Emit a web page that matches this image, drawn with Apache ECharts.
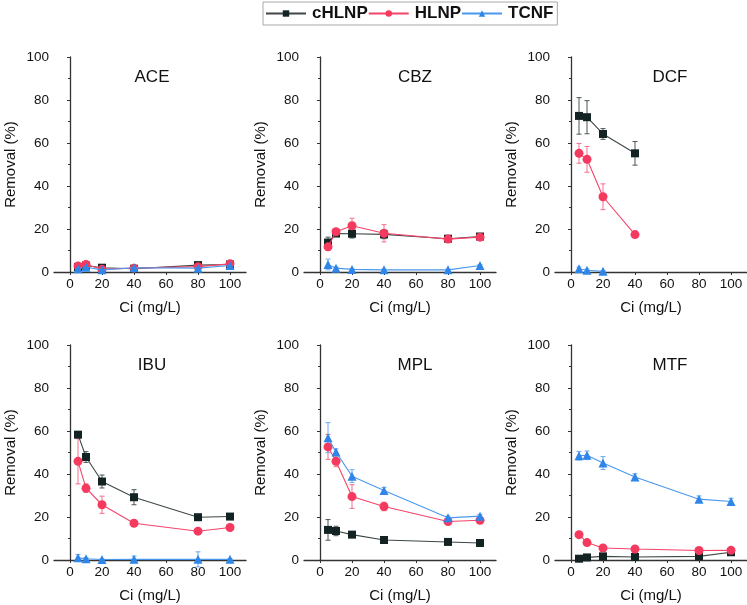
<!DOCTYPE html>
<html>
<head>
<meta charset="utf-8">
<script src="https://cdn.jsdelivr.net/npm/echarts@6/dist/echarts.min.js"></script>
<style>html,body{margin:0;padding:0;background:#fff}#c{width:747px;height:605px}</style>
</head>
<body>
<div id="c"></div>
<script>
// ---- data ----
const seriesNames = ['cHLNP', 'HLNP', 'TCNF'];
const panelNames = ['ACE', 'CBZ', 'DCF', 'IBU', 'MPL', 'MTF'];
const ciX = [5, 10, 20, 40, 80, 100];
const xTicks = [0, 20, 40, 60, 80, 100];

const ace_cHLNP = [2.3, 3.0, 2.0, 1.5, 3.2, 3.5];
const ace_cHLNP_err = [0.5, 0.8, 0.5, 0.5, 0.5, 0.5];
const ace_HLNP = [2.8, 3.5, 1.3, 1.8, 2.5, 3.8];
const ace_HLNP_err = [0.8, 0.8, 0.5, 0.5, 0.5, 0.5];
const ace_TCNF = [1.5, 2.2, 1.0, 2.0, 1.8, 3.0];
const ace_TCNF_err = [0.5, 0.5, 0.3, 0.8, 0.5, 0.5];

const cbz_cHLNP = [13.7, 17.9, 17.8, 17.5, 15.5, 16.5];
const cbz_cHLNP_err = [2.5, 1.0, 2.0, 2.0, 0.8, 0.8];
const cbz_HLNP = [11.7, 18.7, 21.5, 18.0, 15.3, 16.2];
const cbz_HLNP_err = [1.5, 1.0, 3.5, 4.0, 0.8, 0.8];
const cbz_TCNF = [3.5, 1.8, 1.2, 1.0, 1.0, 3.0];
const cbz_TCNF_err = [2.5, 0.5, 0.3, 0.3, 0.3, 0.5];

const dcf_x = [5, 10, 20, 40];
const dcf_cHLNP = [72.6, 72.0, 64.2, 55.2];
const dcf_cHLNP_err = [8.5, 7.7, 2.5, 5.5];
const dcf_HLNP = [55.2, 52.4, 35.0, 17.4];
const dcf_HLNP_err = [4.6, 6.0, 6.0, 0.5];
const dcf_TCNF_x = [5, 10, 20];
const dcf_TCNF = [1.5, 0.8, 0.3];
const dcf_TCNF_err = [0.8, 0.5, 0.3];

const ibu_cHLNP = [58.3, 47.9, 36.5, 29.2, 19.9, 20.2];
const ibu_cHLNP_err = [1.0, 2.5, 3.0, 3.5, 0.5, 0.5];
const ibu_HLNP = [45.9, 33.4, 25.7, 17.1, 13.4, 15.1];
const ibu_HLNP_err = [10.5, 2.0, 4.0, 1.0, 0.5, 0.5];
const ibu_TCNF = [1.0, 0.6, 0.2, 0.3, 0.3, 0.3];
const ibu_TCNF_err = [1.5, 0.5, 0.3, 1.5, 3.5, 0.3];

const mpl_cHLNP = [14.0, 13.5, 11.8, 9.3, 8.4, 7.9];
const mpl_cHLNP_err = [4.8, 2.2, 0.8, 0.8, 0.5, 0.5];
const mpl_HLNP = [52.6, 45.9, 29.5, 24.9, 17.9, 18.5];
const mpl_HLNP_err = [5.8, 2.5, 5.5, 2.0, 0.8, 0.8];
const mpl_TCNF = [56.9, 50.2, 39.0, 32.3, 19.6, 20.4];
const mpl_TCNF_err = [7.0, 1.5, 3.0, 1.5, 0.8, 0.8];

const mtf_cHLNP = [0.6, 1.2, 1.7, 1.4, 1.7, 3.6];
const mtf_cHLNP_err = [0.3, 0.3, 0.3, 0.3, 0.3, 0.3];
const mtf_HLNP = [11.8, 8.1, 5.6, 5.1, 4.4, 4.5];
const mtf_HLNP_err = [0.5, 0.5, 0.5, 0.5, 0.5, 0.5];
const mtf_TCNF = [48.5, 48.7, 45.1, 38.6, 28.3, 27.2];
const mtf_TCNF_err = [2.0, 2.0, 3.0, 1.5, 1.5, 1.5];

// ---- build ----
const panels = [
  [[ciX, ace_cHLNP, ace_cHLNP_err], [ciX, ace_HLNP, ace_HLNP_err], [ciX, ace_TCNF, ace_TCNF_err]],
  [[ciX, cbz_cHLNP, cbz_cHLNP_err], [ciX, cbz_HLNP, cbz_HLNP_err], [ciX, cbz_TCNF, cbz_TCNF_err]],
  [[dcf_x, dcf_cHLNP, dcf_cHLNP_err], [dcf_x, dcf_HLNP, dcf_HLNP_err], [dcf_TCNF_x, dcf_TCNF, dcf_TCNF_err]],
  [[ciX, ibu_cHLNP, ibu_cHLNP_err], [ciX, ibu_HLNP, ibu_HLNP_err], [ciX, ibu_TCNF, ibu_TCNF_err]],
  [[ciX, mpl_cHLNP, mpl_cHLNP_err], [ciX, mpl_HLNP, mpl_HLNP_err], [ciX, mpl_TCNF, mpl_TCNF_err]],
  [[ciX, mtf_cHLNP, mtf_cHLNP_err], [ciX, mtf_HLNP, mtf_HLNP_err], [ciX, mtf_TCNF, mtf_TCNF_err]]
];

const lineColors = ['#3e4747', '#f4446a', '#4a98ec'];
const markColors = ['#132222', '#f43a5f', '#2f86e8'];
const errColors = ['#4d5555', '#f46f8b', '#6aaaf0'];
const symbols = ['rect', 'circle', 'triangle'];
const symSizes = [8, 9, 9];

const colLeft = [54, 304, 555];
const rowTop = [57, 345];
const gW = 192, gH = 215;
const titleX = [152, 415, 670];

const FONT = 'Arial, "Liberation Sans", sans-serif';
const grids = [], xAxes = [], yAxes = [], titles = [], series = [];

panels.forEach((p, i) => {
  const c = i % 3, r = Math.floor(i / 3);
  grids.push({left: colLeft[c], top: rowTop[r], width: gW, height: gH});
  xAxes.push({
    gridIndex: i, type: 'value', min: -10, max: 110,
    name: 'Ci (mg/L)', nameLocation: 'middle', nameGap: 28,
    nameTextStyle: {fontSize: 15, color: '#111', fontFamily: FONT},
    axisLine: {show: true, onZero: false, lineStyle: {color: '#333', width: 1.3}},
    axisTick: {show: true, inside: false, length: 3, customValues: xTicks, lineStyle: {color: '#333'}},
    axisLabel: {customValues: xTicks, fontSize: 13.5, color: '#111', margin: 5, fontFamily: FONT},
    splitLine: {show: false}
  });
  yAxes.push({
    gridIndex: i, type: 'value', min: 0, max: 100, interval: 20,
    name: 'Removal (%)', nameLocation: 'middle', nameGap: 36,
    nameTextStyle: {fontSize: 15, color: '#111', fontFamily: FONT},
    axisLine: {show: true, lineStyle: {color: '#333', width: 1.3}},
    axisTick: {show: true, length: 3, lineStyle: {color: '#333'}},
    minorTick: {show: true, splitNumber: 2, length: 2, lineStyle: {color: '#333'}},
    axisLabel: {fontSize: 13.5, color: '#111', margin: 5, fontFamily: FONT},
    splitLine: {show: false}
  });
  titles.push({
    text: panelNames[i], left: titleX[c], top: rowTop[r] + 12, textAlign: 'center', padding: 0,
    textStyle: {fontSize: 17, fontWeight: 'normal', color: '#111', fontFamily: FONT}
  });
  p.forEach((s, k) => {
    const [xs, ys, es] = s;
    series.push({
      type: 'custom', xAxisIndex: i, yAxisIndex: i, silent: true, z: 1,
      data: xs.map((x, j) => [x, ys[j] - es[j], ys[j] + es[j]]),
      renderItem: (params, api) => {
        const x = api.value(0);
        const a = api.coord([x, api.value(1)]);
        const b = api.coord([x, api.value(2)]);
        const st = {stroke: errColors[k], lineWidth: 1};
        return {type: 'group', children: [
          {type: 'line', shape: {x1: a[0], y1: a[1], x2: b[0], y2: b[1]}, style: st},
          {type: 'line', shape: {x1: a[0] - 2.5, y1: a[1], x2: a[0] + 2.5, y2: a[1]}, style: st},
          {type: 'line', shape: {x1: b[0] - 2.5, y1: b[1], x2: b[0] + 2.5, y2: b[1]}, style: st}
        ]};
      }
    });
    series.push({
      name: seriesNames[k], type: 'line', xAxisIndex: i, yAxisIndex: i, z: 2 + k,
      data: xs.map((x, j) => [x, ys[j]]),
      symbol: symbols[k], symbolSize: symSizes[k], showSymbol: true,
      lineStyle: {color: lineColors[k], width: 1.1},
      itemStyle: {color: markColors[k]},
      emphasis: {disabled: true}, animation: false
    });
  });
});

const chart = echarts.init(document.getElementById('c'), null, {renderer: 'canvas'});
chart.setOption({
  animation: false,
  backgroundColor: '#fff',
  title: titles,
  legend: {
    data: seriesNames, left: 263, top: 2, orient: 'horizontal',
    itemWidth: 40, itemHeight: 8, itemGap: 0,
    padding: [3, 4, 3, 2],
    borderColor: '#a8a8a8', borderWidth: 1,
    textStyle: {fontSize: 17, fontWeight: 'bold', color: '#111', fontFamily: FONT, padding: [0, 0, 0, 1]}
  },
  grid: grids, xAxis: xAxes, yAxis: yAxes, series: series
});
</script>
</body>
</html>
